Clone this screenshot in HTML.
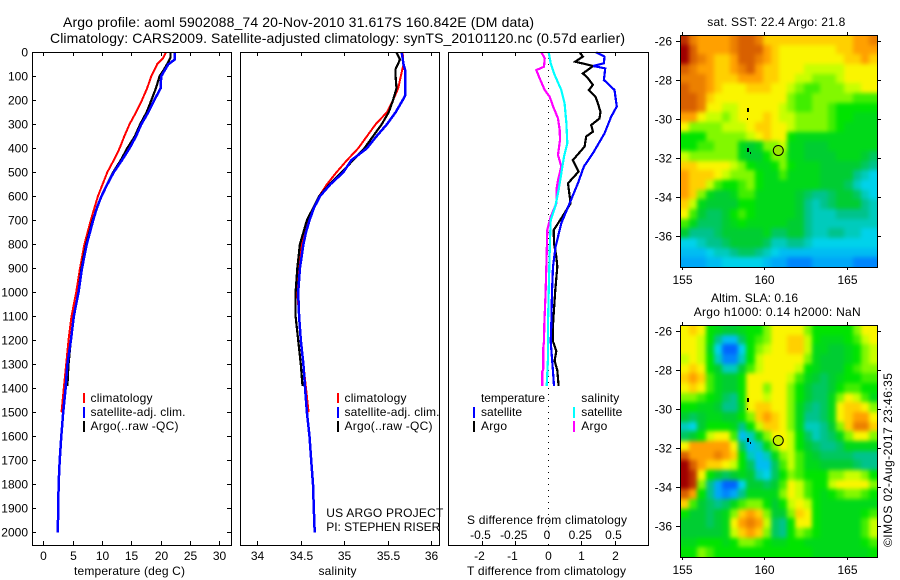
<!DOCTYPE html>
<html lang="en">
<head>
<meta charset="utf-8">
<title>Argo profile 5902088_74</title>
<style>
html,body{margin:0;padding:0;background:#fff;width:900px;height:580px;overflow:hidden}
svg{display:block}
text{font-family:"Liberation Sans",sans-serif;font-size:12px;fill:#000}
.t{font-size:14px}
</style>
</head>
<body>
<svg id="chart" xmlns="http://www.w3.org/2000/svg" width="900" height="580" viewBox="0 0 900 580">
<defs>
<filter id="map-smooth" filterUnits="userSpaceOnUse" x="640" y="0" width="260" height="580" color-interpolation-filters="sRGB"><feGaussianBlur stdDeviation="2"/></filter>
<clipPath id="clip-sst"><rect x="681" y="35" width="196" height="232"/></clipPath>
<clipPath id="clip-sla"><rect x="681" y="325" width="196" height="232"/></clipPath>
</defs>
<rect x="0" y="0" width="900" height="580" fill="#fff"/>
<text class="t" x="63" y="27" textLength="471" lengthAdjust="spacing">Argo profile: aoml 5902088_74 20-Nov-2010 31.617S 160.842E (DM data)</text>
<text class="t" x="50" y="43" textLength="575" lengthAdjust="spacing">Climatology: CARS2009. Satellite-adjusted climatology: synTS_20101120.nc (0.57d earlier)</text>

<g id="maps"></g>
<g id="lines"></g>
<g id="axes"></g>

<text x="74" y="575" textLength="111" lengthAdjust="spacing">temperature (deg C)</text>
<text x="318.500" y="575" textLength="38" lengthAdjust="spacing">salinity</text>
<text x="467" y="575" textLength="159" lengthAdjust="spacing">T difference from climatology</text>
<text x="467" y="524" textLength="160" lengthAdjust="spacing">S difference from climatology</text>

<g>
<rect x="83" y="393" width="2" height="10" fill="#f00"/>
<rect x="83" y="407" width="2" height="11" fill="#00f"/>
<rect x="83" y="421" width="2" height="11" fill="#000"/>
<text x="90.500" y="402" textLength="62" lengthAdjust="spacing">climatology</text>
<text x="90.500" y="416" textLength="95" lengthAdjust="spacing">satellite-adj. clim.</text>
<text x="90.500" y="430" textLength="88" lengthAdjust="spacing">Argo(..raw -QC)</text>
</g>
<g>
<rect x="337" y="393" width="2" height="10" fill="#f00"/>
<rect x="337" y="407" width="2" height="11" fill="#00f"/>
<rect x="337" y="421" width="2" height="11" fill="#000"/>
<text x="344.500" y="402" textLength="62" lengthAdjust="spacing">climatology</text>
<text x="344.500" y="416" textLength="95" lengthAdjust="spacing">satellite-adj. clim.</text>
<text x="344.500" y="430" textLength="88" lengthAdjust="spacing">Argo(..raw -QC)</text>
</g>
<text x="326.300" y="517" textLength="117" lengthAdjust="spacing">US ARGO PROJECT</text>
<text x="326.300" y="531" textLength="114" lengthAdjust="spacing">PI: STEPHEN RISER</text>

<g>
<text x="481" y="402" textLength="64" lengthAdjust="spacing">temperature</text>
<text x="581.300" y="402" textLength="38" lengthAdjust="spacing">salinity</text>
<rect x="473" y="407" width="2" height="11" fill="#00f"/>
<rect x="473" y="421" width="2" height="11" fill="#000"/>
<rect x="573" y="407" width="2" height="11" fill="#0ff"/>
<rect x="573" y="421" width="2" height="11" fill="#f0f"/>
<text x="481" y="416" textLength="41" lengthAdjust="spacing">satellite</text>
<text x="481" y="430" textLength="26" lengthAdjust="spacing">Argo</text>
<text x="581.300" y="416" textLength="41" lengthAdjust="spacing">satellite</text>
<text x="581.300" y="430" textLength="26" lengthAdjust="spacing">Argo</text>
</g>

<text x="707.300" y="26" textLength="138" lengthAdjust="spacing">sat. SST: 22.4 Argo: 21.8</text>
<text x="711" y="302" textLength="87" lengthAdjust="spacing">Altim. SLA: 0.16</text>
<text x="693.700" y="316" textLength="167" lengthAdjust="spacing">Argo h1000: 0.14 h2000: NaN</text>
<text transform="translate(892,547) rotate(-90)" x="0" y="0" textLength="174" lengthAdjust="spacing">©IMOS 02-Aug-2017 23:46:35</text>
</svg>

<script>
// ---------- chart data ----------
const depthTicks = [0,100,200,300,400,500,600,700,800,900,1000,1100,1200,1300,1400,1500,1600,1700,1800,1900,2000];
const tempTicks = [0,5,10,15,20,25,30];
const salTicks = [34,34.5,35,35.5,36];
const salTickLabels = ['34','34.5','35','35.5','36'];
const tDiffTicks = [-2,-1,0,1,2];
const sDiffTicks = [-0.5,-0.25,0,0.25,0.5];
const sDiffTickLabels = ['-0.5','-0.25','0','0.25','0.5'];
const lonTicks = [155,160,165];
const latTicks = [-26,-28,-30,-32,-34,-36];

const tempClimDepth = [0,25,50,100,150,200,250,300,350,400,450,500,550,600,650,700,800,900,1000,1100,1200,1300,1400,1500];
const tempClimValues = [20.9,20.4,19.4,18.4,17.7,16.8,15.8,14.7,13.8,13,12,10.9,10.1,9.3,8.7,8.1,7,6.25,5.6,4.8,4.3,3.9,3.5,3.1];
const tempSatDepth = [0,30,50,100,150,200,250,300,350,400,450,500,550,600,650,700,800,900,1000,1100,1200,1300,1400,1500,1600,1700,1800,1900,2000];
const tempSatValues = [22.4,22.4,21.3,20.1,20,18.9,17.9,16.7,15.8,14.7,13.4,12,10.9,9.9,9.1,8.5,7.4,6.6,6,5.2,4.7,4.1,3.8,3.4,3.07,2.8,2.6,2.55,2.45];
const tempArgoDepth = [0,20,40,70,100,150,200,250,300,350,400,450,500,600,700,800,900,1000,1100,1200,1300,1390];
const tempArgoValues = [21.7,21.7,21.3,20.6,19.8,19.2,18.4,17.6,16.5,15.6,14.3,13.2,11.9,9.9,8.4,7.3,6.5,6,5.2,4.7,4.3,4.1];

const salClimDepth = [0,50,100,150,200,250,300,350,400,450,500,550,600,650,700,750,800,900,1000,1100,1200,1300,1400,1500];
const salClimValues = [35.67,35.68,35.65,35.62,35.56,35.49,35.36,35.26,35.16,35.03,34.91,34.8,34.71,34.64,34.58,34.54,34.51,34.48,34.46,34.48,34.5,34.53,34.56,34.59];
const salSatDepth = [0,50,75,100,150,180,200,250,300,350,400,450,500,550,600,650,700,750,800,900,1000,1100,1200,1300,1400,1500,1600,1700,1800,1900,2000];
const salSatValues = [35.66,35.68,35.7,35.7,35.7,35.7,35.67,35.59,35.49,35.37,35.26,35.08,34.99,34.84,34.72,34.65,34.6,34.56,34.53,34.49,34.47,34.48,34.5,34.53,34.55,34.57,34.6,34.62,34.64,34.65,34.66];
const salArgoDepth = [0,30,70,100,150,200,250,300,350,400,450,500,550,600,650,700,750,800,900,1000,1100,1200,1300,1390];
const salArgoValues = [35.6,35.64,35.59,35.59,35.6,35.56,35.51,35.43,35.33,35.23,35.1,34.97,34.83,34.71,34.64,34.57,34.53,34.49,34.46,34.44,34.44,34.47,34.5,34.52];

const dtArgoDepth = [0,18,39,57,88,108,136,157,185,213,248,276,303,331,351,393,449,497,546,629,692,740,796,851,893,990,1135,1205,1245,1285,1325,1390];
const dtArgoValues = [0.95,1.05,0.82,1.36,1.05,1.2,1.35,1.23,1.43,1.5,1.58,1.55,1.3,1.35,1.15,1.1,0.75,0.92,0.6,0.68,0.4,0.17,0.18,0.25,0.28,0.22,0.15,0.15,0.25,0.2,0.28,0.32];
const dtSatDepth = [0,18,46,57,67,115,157,226,268,338,421,476,546,629,712,810,893,1000,1135,1205,1275,1330,1390];
const dtSatValues = [1.45,1.7,1.68,1.36,1.72,1.68,2,2.07,1.9,1.7,1.35,1.08,0.9,0.65,0.4,0.23,0.15,0.12,0.1,0.08,0.12,0.15,0.18];
const dsSatDepth = [0,46,88,157,213,296,379,435,504,574,643,699,782,893,1000,1135,1275,1390];
const dsSatValues = [0.005,0.02,0.045,0.1,0.125,0.138,0.145,0.12,0.1,0.08,0.055,0.02,0.015,0.01,0.005,0,0,-0.01];
const dsArgoDepth = [0,25,60,74,108,157,185,226,275,324,365,428,476,532,574,629,685,740,838,1000,1135,1205,1230,1320,1330,1390];
const dsArgoValues = [-0.05,-0.025,-0.03,-0.088,-0.063,-0.025,0.013,0.038,0.075,0.088,0.09,0.075,0.1,0.075,0.063,0.063,0.02,-0.005,-0.01,-0.018,-0.028,-0.03,-0.035,-0.035,-0.043,-0.043];

// map fields: colour level per cell, rows from north to south
const sstGrid = [
[9.5,8.5,8,8,8,8,8.5,9,9,8.5,7.5,7.5,7.5,7.5,7.5,7.5,7.5,7.5,7.5,7.5,7.5,8,8,8.5],
[10,9,8,8,8,8,8.5,9,9,9,8,7.5,7,7,7,7,7,7,7,7.5,7.5,8,8,8],
[10,9,8.5,8,7.5,7.5,8,9,9,8.5,8,7.5,7,7,7,7,7,7,7,7,7.5,7.5,8,7.5],
[9,8.5,8,8,7.5,7.5,8,8.5,9,8,7.5,7.5,7,7,7,6.5,6.5,6.5,6.5,6.5,7,7,7,7],
[8.5,8.5,8.5,8,7.5,7.5,7.5,8,8,8,7.5,7.5,7,7,6.5,6.5,6,6,6,6.5,7,7,7,7],
[9,8.5,8.5,8,7.5,7,7,7,7.5,7.5,7.5,7,7,6.5,6,5.5,5.5,6,6,6,6.5,6.5,7,7],
[9,9,8.5,7.5,7,7,7,7,7,7,7,7,7,6,5.5,5.5,6,6,6,6,6,5.5,5.5,5.5],
[9,9,8.5,7,7,6.5,6.5,7,7,7,7,7,6.5,6,5.5,5.5,6,6,5.5,5,5,5,5,5],
[8,8,7,6.5,6.5,6,6.5,7,7,7,7.5,7,6.5,6.5,6,6,6,6,5.5,5,5,4.5,4.5,4.5],
[7,6,6,6,6,6.5,6.5,6.5,7,7.5,7.5,7,7,6.5,6,6,6,6,5.5,5,4.5,4.5,4.5,4.5],
[5,5,5,6,6,6,6,6,6.5,7,7.5,7,7,5,4.5,4.5,4.5,4.5,4.5,4.5,4.5,4.5,4.5,4.5],
[5,5,5.5,5.5,6,6,6,4.5,4,4.5,6,6,6.5,4.5,4.5,4,4,4,4.5,4.5,4.5,4.5,4.5,4.5],
[6.5,6,6,6,6,6,6,4.5,4,4,5,6,6,4.5,4.5,4,4,4,4,4.5,4.5,4.5,4,3.5],
[7.5,7.5,7,7,7,7,6.5,6,5,4.5,4.5,5,6,5,4.5,4.5,4.5,4,4,4,4,4,3.5,3],
[8,7.5,7.5,7.5,7,6.5,6,6,6,5,4.5,4.5,5.5,4.5,4.5,4.5,4.5,4,4,4,4,3,2.5,2],
[8,7.5,7.5,6.5,5.5,5,5,5.5,6,5,4.5,4.5,4.5,4.5,4.5,4.5,4.5,4,4,4,3.5,2.5,2,2],
[8,7.5,6,4.5,4,4,4.5,5.5,5.5,4.5,4.5,4.5,4.5,4.5,4,3.5,3,3,3.5,4,4,3.5,2.5,2],
[7.5,6.5,4.5,4,4,4,4,5,5,4.5,4.5,4.5,4.5,4.5,4,3,2.5,3,3.5,4,4,4,3,2.5],
[7,5.5,4,3.5,3.5,4,5,5.5,5,4.5,4.5,4.5,4.5,4.5,4,3,2.5,2.5,2.5,3,3,3,3,2.5],
[5.5,4.5,3.5,3.5,3.5,4,4.5,5,4.5,4.5,4.5,4.5,4.5,4,4,3,2.5,2.5,2.5,2.5,2.5,2.5,2.5,2.5],
[4,3,3,3,3.5,4,4,4,4,4,4.5,3.5,3.5,4,4,3,2.5,2.5,3,3,2.5,2.5,2,2],
[2,2,2.5,3,3,3.5,4,4,4,4,3.5,2.5,2.5,3,3,2.5,2,2,2,2,2,2,2,2],
[1.5,1.5,1.5,2,2.5,2.5,3,3.5,3.5,3,2.5,2,1.5,1.5,1.5,1.5,1.5,1.5,1.5,1.5,1.5,1.5,1.5,1.5],
[1,1,1,1.5,1.5,2,2,2,2,2,1.5,1,1,0.5,0.5,0.5,1,1,1,1,1,0.5,0.5,0.5]
];
const slaGrid = [
[7,7.5,7,5,4.5,4,4,4.5,5,5,6,7,7,7,7,6,5,5,5,5,5,6,7,7],
[7,7,6.5,5,3,1.5,1.5,3.5,5,5.5,6,7,7,7.5,7.5,6.5,5,4.5,4.5,4.5,5,5.5,6.5,7],
[7,7,6.5,4.5,2,0,0,2,5,6,6.5,7,7,7.5,7.5,6.5,4.5,4.5,4,4,4.5,5,6,6.5],
[6.5,7,6.5,5,2.5,0.5,0.5,2.5,5,6.5,7,7,7,7,7,6,4.5,4,4,4,4.5,5,6,6.5],
[7,7.5,7,5,4,2.5,2.5,4,5.5,6.5,7,7,7,7,6.5,5,4.5,4,4,4,5,5.5,6,6],
[7.5,8,7.5,5.5,4.5,4,4,5,7,7,7,7,7,6.5,5.5,4.5,4,3.5,4,4.5,5,5,5.5,5.5],
[7,7.5,7,5.5,4.5,4,4,5,7,7,6,7,7,6,5,4,3.5,3.5,4,5,5.5,5.5,5,5],
[6,6,5.5,5,4.5,3.5,3,5,7,7,6.5,7,7,6,5,4,3.5,3.5,4.5,6,7,6.5,5.5,4.5],
[5,5,4.5,4.5,4,3,3,4.5,7,7.5,7.5,7,7,6,4.5,3.5,3,3.5,4.5,7,7.5,7.5,7,6],
[4,3.5,4,4.5,4.5,4,4,5,6,7.5,8,7.5,7,6,4.5,3,3,3.5,4.5,7,7.5,8,8,7],
[2.5,2,4,5,5,5,4.5,3,5,6.5,7.5,7.5,7,6,4.5,2.5,2.5,3,4,6,7.5,8.5,8.5,7.5],
[3.5,4,5,6.5,7,7,5.5,1.5,2.5,4.5,6,7,7,6.5,5,3.5,2.5,3,3.5,4.5,6,7,7,6],
[7,8,8,8,8,8,7,3.5,1.5,2.5,4.5,6,7,6.5,5,4,3.5,3,3,3.5,4.5,4.5,4.5,4.5],
[9,8,8,8,8.5,8,7.5,5,2.5,1.5,2.5,4.5,6,6.5,5.5,4.5,4,3.5,3.5,3.5,3.5,3,3,3],
[10,9,8,7.5,7.5,7,6.5,5,3.5,1.5,1.5,3.5,5.5,6.5,5.5,4.5,4.5,4,4,4,4,3.5,3,3],
[10,9.5,7,5,4,3.5,4,4.5,4,2.5,2,3.5,5,6,5.5,5,5,5,6,6,6.5,6.5,6,5],
[10,9.5,6,3,1,0,0,2,4,4,3.5,4,5.5,7,6.5,5.5,5,5,6.5,7,7,7,7,6],
[9,8,5,3,1,0.5,1,3,4.5,4.5,4.5,4.5,6,7,6.5,5.5,5,4.5,5,5.5,6,6,5.5,5],
[7.5,5.5,4,3.5,3,3.5,4.5,5.5,6,6,5,4,5,6.5,7,6.5,5,4.5,4.5,4.5,4.5,4.5,4.5,4.5],
[5,4,4,3.5,4,4.5,6,7.5,8,7.5,6,4,4,6,7.5,7,5,4.5,4.5,4.5,4.5,4.5,5,5.5],
[4,4,4,3.5,4,4.5,7,8,8.5,8,6.5,3.5,3,5,7,7,5,4.5,4.5,4.5,4.5,4.5,5.5,6.5],
[4,4,4,4,4,4.5,6.5,7.5,8,7.5,6,3.5,3,5,6,5.5,5,4.5,4.5,4.5,4.5,4.5,5.5,6.5],
[4.5,4.5,5,5,5,4.5,5,6,6,5.5,5,4.5,4.5,5,5,4.5,4.5,4.5,4.5,4.5,4.5,4.5,5,5.5],
[5,5,6,5.5,5,5,5,5,5,5,5,5,5,5,5,5,4.5,4.5,4.5,4.5,4.5,4.5,4.5,5]
];
const argoLon = [160.842];
const argoLat = [-31.617];
const coastLon = [159,158.97,159,159.2];
const coastLat = [-29.5,-30,-31.52,-31.74];

// ---------- scales ----------
const NS = 'http://www.w3.org/2000/svg';
const depthY = d => 52.3 + d * 0.24;
const tempX = t => 43.3 + t * 5.867;
const salX = s => 257.3 + (s - 34) * 87;
const tDiffX = t => 548 + t * 33.25;
const sDiffX = s => 548 + s * 133;
const lonX = lon => 682.3 + (lon - 155) * 16.43;
const latY = (lat, top) => top + 6.3 + (-26 - lat) * 19.44;
const levelStops = [0,1,2,3,4,5,6,6.5,7,7.5,8,9,10];
const levelColours = [[0,100,255],[0,168,248],[0,210,235],[0,195,140],[0,205,50],[0,228,0],[130,248,0],[200,255,0],[250,245,0],[255,208,0],[255,160,0],[216,96,0],[160,0,0]];

function levelColour(v){
  let i = 0;
  while (i < levelStops.length - 2 && v > levelStops[i + 1]) i++;
  const f = Math.max(0, Math.min(1, (v - levelStops[i]) / (levelStops[i + 1] - levelStops[i])));
  const a = levelColours[i], b = levelColours[i + 1];
  return 'rgb(' + a.map((c, k) => Math.round(c + (b[k] - c) * f)).join(',') + ')';
}
function mk(tag, attrs, parent){
  const el = document.createElementNS(NS, tag);
  for (const k in attrs) el.setAttribute(k, attrs[k]);
  parent.appendChild(el);
  return el;
}
const linesG = document.getElementById('lines');
const axesG = document.getElementById('axes');
const mapsG = document.getElementById('maps');

function drawProfile(name, xFn, depths, values, colour, width){
  const pts = depths.map((d, i) => xFn(values[i]).toFixed(1) + ',' + depthY(d).toFixed(1)).join(' ');
  const el = mk('polyline', {points: pts, fill: 'none', stroke: colour, 'stroke-width': width, 'shape-rendering': 'crispEdges'}, linesG);
  
  
}
function tick(name, x1, y1, x2, y2){
  const el = mk('line', {x1: x1, y1: y1, x2: x2, y2: y2, stroke: '#000', 'stroke-width': 1, 'shape-rendering': 'crispEdges'}, axesG);
  
  
}
function label(name, x, y, str, anchor){
  const el = mk('text', {x: x, y: y, 'text-anchor': anchor}, axesG);
  el.textContent = str;
  
  
}
function frame(name, x, y, w, h){
  const el = mk('rect', {x: x + 0.5, y: y + 0.5, width: w, height: h, fill: 'none', stroke: '#000', 'stroke-width': 1, 'shape-rendering': 'crispEdges'}, axesG);
  
  
}

// ---------- profile panels ----------
frame('temperature-plot-frame', 32, 52, 199, 493);
frame('salinity-plot-frame', 240, 52, 199, 493);
frame('difference-plot-frame', 448, 52, 200, 493);

depthTicks.forEach(d => {
  const y = Math.round(depthY(d)) + 0.5;
  tick('depth-tick-left', 32, y, 36, y);
  tick('depth-tick-right', 227, y, 231, y);
  label('depth-tick-label', 28, y + 4, String(d), 'end');
});
tempTicks.forEach(t => {
  const x = Math.round(tempX(t)) + 0.5;
  tick('temperature-tick-top', x, 52, x, 56);
  tick('temperature-tick-bottom', x, 541, x, 545);
  label('temperature-tick-label', x, 560, String(t), 'middle');
});
salTicks.forEach((s, i) => {
  const x = Math.round(salX(s)) + 0.5;
  tick('salinity-tick-top', x, 52, x, 56);
  tick('salinity-tick-bottom', x, 541, x, 545);
  label('salinity-tick-label', x, 560, salTickLabels[i], 'middle');
});
tDiffTicks.forEach(t => {
  const x = Math.round(tDiffX(t)) + 0.5;
  if (t !== 0) tick('t-difference-tick-top', x, 52, x, 56);
  if (t !== 0) tick('t-difference-tick-bottom', x, 541, x, 545);
  label('t-difference-tick-label', x - (t < 0 ? 3 : 0), 560, String(t), 'middle');
});
sDiffTicks.forEach((s, i) => {
  const x = sDiffX(s);
  label('s-difference-tick-label', x - 1, 539, sDiffTickLabels[i], 'middle');
});
const zero = mk('line', {x1: 548.5, y1: 52, x2: 548.5, y2: 545, stroke: '#000', 'stroke-width': 1, 'stroke-dasharray': '1 5', 'shape-rendering': 'crispEdges'}, linesG);



drawProfile('temperature-climatology-line', tempX, tempClimDepth, tempClimValues, '#f00', 2);
drawProfile('temperature-argo-line', tempX, tempArgoDepth, tempArgoValues, '#000', 2.2);
drawProfile('temperature-satellite-line', tempX, tempSatDepth, tempSatValues, '#00f', 2.5);
drawProfile('salinity-climatology-line', salX, salClimDepth, salClimValues, '#f00', 2);
drawProfile('salinity-argo-line', salX, salArgoDepth, salArgoValues, '#000', 2.2);
drawProfile('salinity-satellite-line', salX, salSatDepth, salSatValues, '#00f', 2.5);
drawProfile('s-difference-argo-line', sDiffX, dsArgoDepth, dsArgoValues, '#f0f', 2.2);
drawProfile('t-difference-argo-line', tDiffX, dtArgoDepth, dtArgoValues, '#000', 2.2);
drawProfile('t-difference-satellite-line', tDiffX, dtSatDepth, dtSatValues, '#00f', 2.2);
drawProfile('s-difference-satellite-line', sDiffX, dsSatDepth, dsSatValues, '#0ff', 2.2);

// ---------- maps ----------
function drawMap(name, grid, top, clipId, circleFill){
  const left = 681, right = 877, bottom = top + 232;
  const rows = grid.length, cols = grid[0].length;
  const clipG = mk('g', {'clip-path': 'url(#' + clipId + ')'}, mapsG);
  
  
  const blurG = mk('g', {filter: 'url(#map-smooth)'}, clipG);
  
  
  grid.forEach((row, r) => row.forEach((v, c) => {
    let x0 = Math.round(left + (right - left) * c / cols);
    let x1 = Math.round(left + (right - left) * (c + 1) / cols);
    let y0 = Math.round(top + (bottom - top) * r / rows);
    let y1 = Math.round(top + (bottom - top) * (r + 1) / rows);
    // outer cells run past the clip so the smoothing does not fade at the frame
    if (c === 0) x0 -= 12;
    if (c === cols - 1) x1 += 12;
    if (r === 0) y0 -= 12;
    if (r === rows - 1) y1 += 12;
    const cell = mk('rect', {x: x0, y: y0, width: x1 - x0, height: y1 - y0, fill: levelColour(v), 'shape-rendering': 'crispEdges'}, blurG);
    
    
  }));
  frame(name + '-frame', left - 1, top, right - left + 1, bottom - top);
  lonTicks.forEach(lon => {
    const x = Math.round(lonX(lon)) + 0.5;
    tick(name + '-lon-tick-top', x, top - 3, x, top);
    tick(name + '-lon-tick-bottom', x, bottom, x, bottom + 3);
    label(name + '-lon-label', x, bottom + 17, String(lon), 'middle');
  });
  latTicks.forEach(lat => {
    const y = Math.round(latY(lat, top)) + 0.5;
    tick(name + '-lat-tick-left', 676, y, 680, y);
    tick(name + '-lat-tick-right', 878, y, 881, y);
    label(name + '-lat-label', 672, y + 4, String(lat), 'end');
  });
  coastLon.forEach((lon, i) => {
    const dot = mk('rect', {x: Math.round(lonX(lon)) - 1, y: Math.round(latY(coastLat[i], top)) - 1, width: i === 0 || i === 2 ? 2 : 1, height: i === 0 || i === 2 ? 4 : 2, fill: '#000', 'shape-rendering': 'crispEdges'}, mapsG);
    
    
  });
  const circle = mk('circle', {cx: lonX(argoLon[0]), cy: latY(argoLat[0], top), r: 5, fill: circleFill, stroke: '#000', 'stroke-width': 1}, mapsG);
  
  
}
drawMap('sst-map', sstGrid, 35, 'clip-sst', '#9ce800');
drawMap('sla-map', slaGrid, 325, 'clip-sla', '#c8f000');
</script>
</body>
</html>
